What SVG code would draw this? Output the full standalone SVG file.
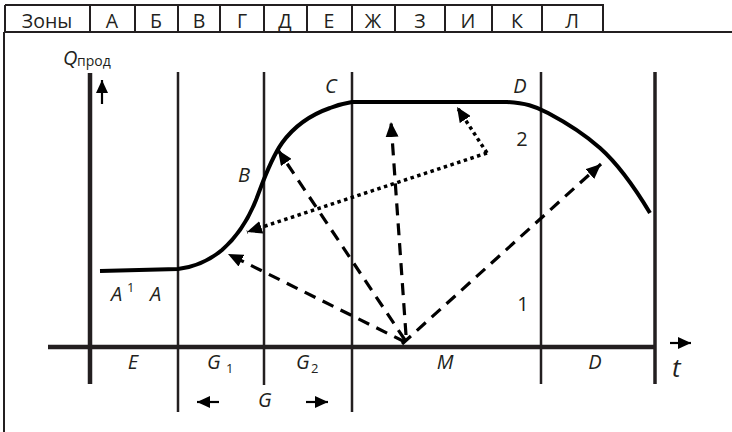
<svg xmlns="http://www.w3.org/2000/svg" width="732" height="432" viewBox="0 0 732 432">
<style>
.t{font-family:"Open Sans","DejaVu Sans",sans-serif;fill:#231f20}
.tab{font-size:19.5px;text-anchor:middle}
.lbl{font-size:20px;font-style:italic}
.num{font-size:20px}
.sub{font-size:13px}
.tl{stroke:#231f20;stroke-width:2;fill:none}
.vl{stroke:#231f20;stroke-width:2.5}
.dash{stroke:#000;stroke-width:3.2;stroke-dasharray:12 8;fill:none}
.dot{stroke:#000;stroke-width:3.5;stroke-dasharray:3.5 3.5;fill:none}
</style>
<defs>
<marker id="ah" markerUnits="userSpaceOnUse" markerWidth="15" markerHeight="13" refX="15" refY="6.5" orient="auto">
<path d="M0,0 L15,6.5 L0,13 z" fill="#000"/>
</marker>
<marker id="ahs" markerUnits="userSpaceOnUse" markerWidth="13" markerHeight="12" refX="13" refY="6" orient="auto">
<path d="M0,0 L13,6 L0,12 z" fill="#000"/>
</marker>
</defs>
<rect width="732" height="432" fill="#fff"/>

<g id="zones-table">
<path class="tl" d="M5,5 H603 V32 M5,5 V32 M4,32 H732 M4,32 V432 M90,5 V32 M135,5 V32 M178,5 V32 M220,5 V32 M264,5 V32 M307,5 V32 M352,5 V32 M395,5 V32 M445,5 V32 M492,5 V32 M542,5 V32"/>
<text class="t tab" x="47" y="28">Зоны</text>
<text class="t tab" x="112" y="28">А</text>
<text class="t tab" x="156" y="28">Б</text>
<text class="t tab" x="199" y="28">В</text>
<text class="t tab" x="242" y="28">Г</text>
<text class="t tab" x="285" y="28">Д</text>
<text class="t tab" x="329" y="28">Е</text>
<text class="t tab" x="373" y="28">Ж</text>
<text class="t tab" x="420" y="28">З</text>
<text class="t tab" x="468" y="28">И</text>
<text class="t tab" x="517" y="28">К</text>
<text class="t tab" x="572" y="28">Л</text>
</g>

<g id="axes">
<line x1="90" y1="73" x2="90" y2="384" stroke="#231f20" stroke-width="4.5"/>
<line x1="48" y1="347" x2="655" y2="347" stroke="#231f20" stroke-width="4.5"/>
<line class="vl" x1="178" y1="72" x2="178" y2="412"/>
<line class="vl" x1="264" y1="72" x2="264" y2="385"/>
<line class="vl" x1="352" y1="72" x2="352" y2="412"/>
<line class="vl" x1="541" y1="72" x2="541" y2="384"/>
<line x1="655" y1="72" x2="655" y2="384" stroke="#231f20" stroke-width="3.5"/>
<line x1="102" y1="104" x2="102" y2="80" stroke="#000" stroke-width="2.2" marker-end="url(#ahs)"/>
<line x1="670" y1="343" x2="691" y2="343" stroke="#000" stroke-width="2.2" marker-end="url(#ahs)"/>
<line x1="219" y1="402" x2="197" y2="402" stroke="#000" stroke-width="2.2" marker-end="url(#ahs)"/>
<line x1="306" y1="402" x2="328" y2="402" stroke="#000" stroke-width="2.2" marker-end="url(#ahs)"/>
</g>

<g id="curve">
<path d="M100,271 L178,269 C195,267 210,260 222,250 C238,236 248,220 256,200 C263,182 270,160 282,143 C295,125 310,115 330,108 C340,104 346,103 352,102 L507,102 C525,103 535,106 548,113 C565,122 582,132 600,148 C618,164 635,188 650,213" fill="none" stroke="#000" stroke-width="4" stroke-linejoin="round"/>
</g>

<g id="connectors">
<line class="dash" x1="405" y1="342" x2="228" y2="254" marker-end="url(#ah)"/>
<line class="dash" x1="405" y1="340" x2="278" y2="150" marker-end="url(#ah)"/>
<line class="dash" x1="406" y1="335" x2="391" y2="122" marker-end="url(#ah)"/>
<line class="dash" x1="402" y1="344" x2="601" y2="164" marker-end="url(#ah)"/>
<line class="dot" x1="487" y1="153" x2="247" y2="232" marker-end="url(#ah)"/>
<line class="dot" x1="487" y1="153" x2="457" y2="107" marker-end="url(#ah)"/>
</g>

<g id="labels">
<text class="t lbl" x="63" y="65">Q</text>
<text class="t sub" x="77" y="66" style="font-size:14px">прод</text>
<text class="t lbl" x="331" y="93" text-anchor="middle">C</text>
<text class="t lbl" x="520" y="93" text-anchor="middle">D</text>
<text class="t num" x="522" y="146" text-anchor="middle">2</text>
<text class="t lbl" x="244" y="182" text-anchor="middle">B</text>
<text class="t lbl" x="111" y="301">A</text>
<text class="t sub" x="127" y="292">1</text>
<text class="t lbl" x="150" y="301">A</text>
<text class="t num" x="523" y="311" text-anchor="middle">1</text>
<text class="t lbl" x="133" y="369" text-anchor="middle">E</text>
<text class="t lbl" x="207" y="369">G</text>
<text class="t sub" x="226" y="373">1</text>
<text class="t lbl" x="296" y="369">G</text>
<text class="t sub" x="311" y="373">2</text>
<text class="t lbl" x="445" y="369" text-anchor="middle">M</text>
<text class="t lbl" x="595" y="369" text-anchor="middle">D</text>
<text class="t lbl" x="258" y="407">G</text>
<text class="t lbl" x="672" y="377" style="font-size:26px">t</text>
</g>
</svg>
